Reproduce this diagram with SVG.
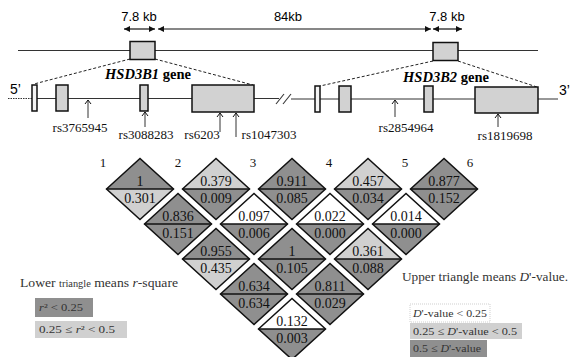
<svg xmlns="http://www.w3.org/2000/svg" xmlns:xlink="http://www.w3.org/1999/xlink" width="570" height="357" viewBox="0 0 570 357">
<style>
.serif{font-family:"Liberation Serif","Times New Roman",serif;}
.sans{font-family:"Liberation Sans",Arial,sans-serif;}
.v{font-family:"Liberation Serif","Times New Roman",serif;font-size:14px;text-anchor:middle;fill:#111;}
.d{fill:#8f8f8f;}
.l{fill:#d0d0d0;}
.w{fill:#ffffff;}
.ol{fill:none;stroke:#111;stroke-width:1.5;stroke-linejoin:miter;}
.mid{stroke:#111;stroke-width:1.4;}
.box{fill:#d2d2d2;stroke:#111;stroke-width:1.5;}
.exw{fill:#f4f4f4;stroke:#111;stroke-width:1.5;}
.dash{fill:none;stroke:#222;stroke-width:1;stroke-dasharray:3,2;}
.line{stroke:#333;stroke-width:1.1;fill:none;}
.dim{stroke:#111;stroke-width:1.2;marker-start:url(#ah);marker-end:url(#ah);}
.snp{stroke:#333;stroke-width:1;marker-end:url(#up);}
.rs{font-family:"Liberation Serif","Times New Roman",serif;font-size:13px;fill:#111;text-anchor:middle;}
.col{font-family:"Liberation Serif","Times New Roman",serif;font-size:13px;fill:#111;text-anchor:middle;}
.lg{font-family:"Liberation Serif","Times New Roman",serif;fill:#333;}
</style>
<defs>
<marker id="ah" viewBox="-7 -4 8 8" refX="0" refY="0" markerWidth="8" markerHeight="8" markerUnits="userSpaceOnUse" orient="auto-start-reverse">
<path d="M-6,-3 L0,0 L-6,3 Z" fill="#111"/>
</marker>
<marker id="up" viewBox="-6 -5 7 10" refX="0" refY="0" markerWidth="7" markerHeight="10" markerUnits="userSpaceOnUse" orient="auto">
<path d="M-4,-3 L0,0 L-4,3" fill="none" stroke="#111" stroke-width="1"/>
</marker>
<path id="up3" d="M-33.5,0 L0,-30.5 L33.5,0 Z"/>
<path id="lo3" d="M-33.5,0 L0,30.5 L33.5,0 Z"/>
<path id="out" d="M-33.5,0 L0,-30.5 L33.5,0 L0,30.5 Z"/>
</defs>
<rect width="570" height="357" fill="#ffffff"/>

<g id="scale">
<text class="sans" x="139" y="21" font-size="13" text-anchor="middle">7.8 kb</text>
<text class="sans" x="288" y="21" font-size="13" text-anchor="middle">84kb</text>
<text class="sans" x="447" y="21" font-size="13" text-anchor="middle">7.8 kb</text>
</g>

<g id="connectors">
<line class="dim" x1="124" y1="29" x2="155" y2="29"/>
<line class="dim" x1="158" y1="29" x2="431" y2="29"/>
<line class="dim" x1="433" y1="29" x2="462" y2="29"/>
<line class="line" x1="18" y1="50.5" x2="538" y2="50.5"/>
<path class="dash" d="M130,59 L34,84"/>
<path class="dash" d="M155,59 L253,85"/>
<path class="dash" d="M433,61 L320,86"/>
<path class="dash" d="M458,61 L537,87"/>
<line class="line" x1="8" y1="98.5" x2="32" y2="98.5" stroke-dasharray="1.5,1"/>
<line class="line" x1="32" y1="98.5" x2="279" y2="98.5"/>
<line class="line" x1="291" y1="99" x2="558" y2="99"/>
<line class="line" x1="276" y1="104" x2="284" y2="94"/>
<line class="line" x1="283" y1="104" x2="291" y2="94"/>
<line class="snp" x1="88" y1="118" x2="88" y2="100"/>
<line class="snp" x1="145" y1="127" x2="145" y2="112"/>
<line class="snp" x1="220" y1="132" x2="220" y2="113"/>
<line class="snp" x1="236" y1="137" x2="236" y2="113"/>
<line class="snp" x1="395" y1="117" x2="395" y2="100"/>
<line class="snp" x1="498" y1="127" x2="498" y2="114"/>
</g>

<g id="locus1"><rect class="box" x="130" y="41.5" width="25" height="18"/></g>
<g id="locus2"><rect class="box" x="433" y="42.5" width="25" height="18"/></g>

<g id="gene1">
<text class="sans" x="10" y="94" font-size="14">5’</text>
<rect class="exw" x="32" y="85" width="5" height="26"/>
<rect class="box" x="56" y="85" width="12" height="26"/>
<rect class="box" x="140" y="85" width="8" height="26"/>
<rect class="box" x="192" y="85" width="62" height="27"/>
<text class="serif" x="148" y="79" font-size="14.5" font-weight="bold" text-anchor="middle"><tspan font-style="italic">HSD3B1</tspan> gene</text>
<text class="rs" x="80" y="132">rs3765945</text>
<text class="rs" x="146" y="139">rs3088283</text>
<text class="rs" x="202" y="139">rs6203</text>
<text class="rs" x="269" y="139">rs1047303</text>
</g>

<g id="gene2">
<text class="sans" x="559" y="95" font-size="14">3’</text>
<rect class="exw" x="315" y="86" width="5" height="26"/>
<rect class="box" x="339" y="86" width="12" height="26"/>
<rect class="box" x="424" y="86" width="9" height="26"/>
<rect class="box" x="475" y="87" width="63" height="26"/>
<text class="serif" x="446" y="82" font-size="14.5" font-weight="bold" text-anchor="middle"><tspan font-style="italic">HSD3B2</tspan> gene</text>
<text class="rs" x="406" y="132">rs2854964</text>
<text class="rs" x="505" y="140">rs1819698</text>
</g>

<g id="columns">
<text class="col" x="103" y="167">1</text>
<text class="col" x="178" y="167">2</text>
<text class="col" x="253" y="167">3</text>
<text class="col" x="329" y="167">4</text>
<text class="col" x="405" y="167">5</text>
<text class="col" x="470" y="167">6</text>
</g>

<g id="ld12" transform="translate(140,189)"><use href="#up3" class="d"/><use href="#lo3" class="l"/><use href="#out" class="ol"/><line class="mid" x1="-33.5" y1="0" x2="33.5" y2="0"/><text class="v" y="-3">1</text><text class="v" y="14">0.301</text></g>
<g id="ld23" transform="translate(216,189)"><use href="#up3" class="l"/><use href="#lo3" class="d"/><use href="#out" class="ol"/><line class="mid" x1="-33.5" y1="0" x2="33.5" y2="0"/><text class="v" y="-3">0.379</text><text class="v" y="14">0.009</text></g>
<g id="ld34" transform="translate(292,189)"><use href="#up3" class="d"/><use href="#lo3" class="d"/><use href="#out" class="ol"/><line class="mid" x1="-33.5" y1="0" x2="33.5" y2="0"/><text class="v" y="-3">0.911</text><text class="v" y="14">0.085</text></g>
<g id="ld45" transform="translate(368,189)"><use href="#up3" class="l"/><use href="#lo3" class="d"/><use href="#out" class="ol"/><line class="mid" x1="-33.5" y1="0" x2="33.5" y2="0"/><text class="v" y="-3">0.457</text><text class="v" y="14">0.034</text></g>
<g id="ld56" transform="translate(444,189)"><use href="#up3" class="d"/><use href="#lo3" class="d"/><use href="#out" class="ol"/><line class="mid" x1="-33.5" y1="0" x2="33.5" y2="0"/><text class="v" y="-3">0.877</text><text class="v" y="14">0.152</text></g>

<g id="ld13" transform="translate(178,224)"><use href="#up3" class="d"/><use href="#lo3" class="d"/><use href="#out" class="ol"/><line class="mid" x1="-33.5" y1="0" x2="33.5" y2="0"/><text class="v" y="-3">0.836</text><text class="v" y="14">0.151</text></g>
<g id="ld24" transform="translate(254,224)"><use href="#up3" class="w"/><use href="#lo3" class="d"/><use href="#out" class="ol"/><line class="mid" x1="-33.5" y1="0" x2="33.5" y2="0"/><text class="v" y="-3">0.097</text><text class="v" y="14">0.006</text></g>
<g id="ld35" transform="translate(330,224)"><use href="#up3" class="w"/><use href="#lo3" class="d"/><use href="#out" class="ol"/><line class="mid" x1="-33.5" y1="0" x2="33.5" y2="0"/><text class="v" y="-3">0.022</text><text class="v" y="14">0.000</text></g>
<g id="ld46" transform="translate(406,224)"><use href="#up3" class="w"/><use href="#lo3" class="d"/><use href="#out" class="ol"/><line class="mid" x1="-33.5" y1="0" x2="33.5" y2="0"/><text class="v" y="-3">0.014</text><text class="v" y="14">0.000</text></g>

<g id="ld14" transform="translate(216,259)"><use href="#up3" class="d"/><use href="#lo3" class="l"/><use href="#out" class="ol"/><line class="mid" x1="-33.5" y1="0" x2="33.5" y2="0"/><text class="v" y="-3">0.955</text><text class="v" y="14">0.435</text></g>
<g id="ld25" transform="translate(292,259)"><use href="#up3" class="d"/><use href="#lo3" class="d"/><use href="#out" class="ol"/><line class="mid" x1="-33.5" y1="0" x2="33.5" y2="0"/><text class="v" y="-3">1</text><text class="v" y="14">0.105</text></g>
<g id="ld36" transform="translate(368,259)"><use href="#up3" class="l"/><use href="#lo3" class="d"/><use href="#out" class="ol"/><line class="mid" x1="-33.5" y1="0" x2="33.5" y2="0"/><text class="v" y="-3">0.361</text><text class="v" y="14">0.088</text></g>

<g id="ld15" transform="translate(254,294)"><use href="#up3" class="d"/><use href="#lo3" class="d"/><use href="#out" class="ol"/><line class="mid" x1="-33.5" y1="0" x2="33.5" y2="0"/><text class="v" y="-3">0.634</text><text class="v" y="14">0.634</text></g>
<g id="ld26" transform="translate(330,294)"><use href="#up3" class="d"/><use href="#lo3" class="d"/><use href="#out" class="ol"/><line class="mid" x1="-33.5" y1="0" x2="33.5" y2="0"/><text class="v" y="-3">0.811</text><text class="v" y="14">0.029</text></g>

<g id="ld16" transform="translate(292,329)"><use href="#up3" class="w"/><use href="#lo3" class="d"/><use href="#out" class="ol"/><line class="mid" x1="-33.5" y1="0" x2="33.5" y2="0"/><text class="v" y="-3">0.132</text><text class="v" y="14">0.003</text></g>

<g id="legend-r2">
<text class="lg" x="20" y="287" font-size="12.5" fill="#111" textLength="158" lengthAdjust="spacingAndGlyphs">Lower <tspan font-size="9.5">triangle</tspan> means <tspan font-style="italic">r</tspan>-square</text>
<rect x="35" y="298" width="58" height="19" fill="#8f8f8f"/>
<text class="lg" x="39" y="311" font-size="10" fill="#222" textLength="44" lengthAdjust="spacingAndGlyphs"><tspan font-style="italic">r</tspan>² &lt; 0.25</text>
<rect x="35" y="321" width="92" height="17" fill="#d0d0d0"/>
<text class="lg" x="39" y="333" font-size="10" textLength="76" lengthAdjust="spacingAndGlyphs">0.25 ≤ <tspan font-style="italic">r</tspan>² &lt; 0.5</text>
</g>

<g id="legend-d">
<text class="lg" x="402" y="281" font-size="13" fill="#111" textLength="166" lengthAdjust="spacingAndGlyphs">Upper triangle means <tspan font-style="italic">D</tspan>'-value.</text>
<rect x="410" y="304" width="80" height="18" fill="#ffffff" stroke="#cfcfcf" stroke-width="1" stroke-dasharray="1,1"/>
<text class="lg" x="413" y="317" font-size="11" fill="#222" textLength="74" lengthAdjust="spacingAndGlyphs"><tspan font-style="italic">D</tspan>'-value &lt; 0.25</text>
<rect x="410" y="323" width="112" height="16" fill="#d0d0d0"/>
<text class="lg" x="413" y="335" font-size="11" textLength="104" lengthAdjust="spacingAndGlyphs">0.25 ≤ <tspan font-style="italic">D</tspan>'-value &lt; 0.5</text>
<rect x="410" y="340" width="77" height="17" fill="#8f8f8f"/>
<text class="lg" x="413" y="352" font-size="11" fill="#222" textLength="68" lengthAdjust="spacingAndGlyphs">0.5 ≤ <tspan font-style="italic">D</tspan>'-value</text>
</g>
</svg>
